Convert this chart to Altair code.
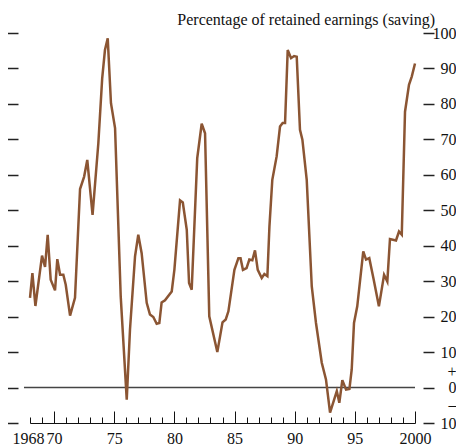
import altair as alt
import pandas as pd

# ---- data ----
years = [
    1968.0, 1968.2, 1968.45, 1969.0, 1969.25, 1969.47, 1969.72, 1970.08, 1970.27, 1970.5,
    1970.77, 1970.97, 1971.33, 1971.74, 1972.16, 1972.5, 1972.76, 1973.2, 1973.68, 1974.0,
    1974.23, 1974.46, 1974.73, 1975.07, 1975.54, 1976.04, 1976.31, 1976.73, 1977.0, 1977.28,
    1977.7, 1977.97, 1978.25, 1978.53, 1978.75, 1978.94, 1979.22, 1979.78, 1980.0, 1980.47,
    1980.7, 1981.03, 1981.22, 1981.44, 1981.9, 1982.27, 1982.55, 1982.9, 1983.57, 1984.0,
    1984.27, 1984.49, 1984.99, 1985.32, 1985.5, 1985.7, 1986.0, 1986.23, 1986.48, 1986.7,
    1986.93, 1987.26, 1987.48, 1987.73, 1987.9, 1988.14, 1988.5, 1988.78, 1989.0, 1989.2,
    1989.42, 1989.7, 1989.95, 1990.17, 1990.44, 1990.64, 1991.0, 1991.42, 1991.77, 1992.25,
    1992.6, 1992.94, 1993.5, 1993.71, 1993.96, 1994.27, 1994.55, 1994.74, 1994.93, 1995.2,
    1995.7, 1995.93, 1996.2, 1996.54, 1997.0, 1997.43, 1997.7, 1997.92, 1998.42, 1998.67,
    1998.9, 1999.17, 1999.5, 1999.73, 2000.0,
]
values = [
    25.3, 32.3, 23.0, 37.2, 34.0, 43.1, 30.4, 27.4, 36.2, 31.8,
    31.8, 29.0, 20.3, 25.3, 56.0, 59.5, 64.2, 48.7, 68.9, 87.2,
    95.2, 98.5, 80.2, 73.2, 25.7, -3.4, 16.3, 37.0, 43.1, 37.9,
    23.9, 20.6, 19.9, 18.0, 18.2, 24.0, 24.6, 27.1, 33.2, 52.8,
    52.2, 44.5, 29.5, 27.6, 64.7, 74.4, 71.7, 20.1, 10.0, 18.4,
    19.2, 21.5, 33.2, 36.5, 36.5, 33.2, 33.7, 36.1, 35.9, 38.7,
    33.2, 30.9, 32.0, 31.4, 45.4, 58.6, 65.2, 73.6, 74.6, 74.6,
    95.2, 92.9, 93.5, 93.3, 72.7, 69.9, 58.6, 28.5, 18.2, 7.0,
    2.3, -7.1, -1.0, -4.3, 2.1, -0.6, -0.4, 5.1, 18.2, 22.9,
    38.4, 36.1, 36.5, 30.9, 22.9, 31.8, 29.9, 41.9, 41.5, 44.0,
    43.1, 77.8, 85.4, 87.7, 91.4,
]
x_label_years = [1968, 1970, 1975, 1980, 1985, 1990, 1995, 2000]
x_tick_years = list(range(1968, 2001))
y_ticks = [-10, 0, 10, 20, 30, 40, 50, 60, 70, 80, 90, 100]
zero_line_x = [1967.5, 2000]
title_text = ["Percentage of retained earnings (saving)"]

FONT = "Liberation Serif"
BROWN = "#8b5533"
W, H = 385, 390

df = pd.DataFrame({"year": years, "value": values})
zero_df = pd.DataFrame({"x0": [zero_line_x[0]], "x1": [zero_line_x[1]], "y": [0]})
title_df = pd.DataFrame({"t": title_text})

xscale = alt.Scale(domain=[1968, 2000], nice=False, zero=False)
yscale = alt.Scale(domain=[-10, 100], nice=False, zero=False)

rule = alt.Chart(zero_df).mark_rule(color="#444444", strokeWidth=1.5).encode(
    x=alt.X("x0:Q", scale=xscale, axis=alt.Axis(
        orient="top", offset=-H, values=x_tick_years, labels=False, grid=False,
        title=None, domain=True, domainColor="#111111", domainWidth=1,
        ticks=True, tickColor="#111111", tickWidth=1,
        tickSize={"condition": {"test": "datum.value % 5 == 0", "value": 12}, "value": 6},
    )),
    x2="x1:Q",
    y=alt.Y("y:Q", scale=yscale, axis=alt.Axis(
        orient="left", offset=12, values=y_ticks, labels=False, grid=False,
        title=None, domain=False, ticks=True, tickSize=11, tickWidth=1.5,
        tickColor="#222222",
    )),
)

line = alt.Chart(df).mark_line(color=BROWN, strokeWidth=2.5).encode(
    x=alt.X("year:Q", scale=xscale, axis=alt.Axis(
        orient="bottom", values=x_label_years, format="d",
        labelExpr="datum.value == 1968 || datum.value == 2000 ? datum.label : slice(datum.label, 2)",
        labelOffset={"condition": {"test": "datum.value == 1968", "value": -2}, "value": 0},
        ticks=False, domain=False, grid=False, title=None,
        labelFont=FONT, labelFontSize=16, labelColor="#111111", labelPadding=7,
        labelFlush=False, labelOverlap=False,
    )),
    y=alt.Y("value:Q", scale=yscale, axis=alt.Axis(
        orient="right", offset=8, values=y_ticks, grid=False, title=None,
        domain=False, ticks=True, tickSize=11, tickWidth=1.5, tickColor="#222222",
        labelExpr="datum.value == 0 ? ['+\u00a0\u00a0', '0', '\u2013\u00a0\u00a0'] : (datum.value < 0 ? '10' : datum.label)",
        labelOffset={"condition": {"test": "datum.value == 0", "value": -16.5}, "value": 0},
        labelAlign="right", labelPadding=22, labelBaseline="middle",
        labelFont=FONT, labelFontSize=16, labelColor="#111111", labelLineHeight=16.5,
        labelOverlap=False, labelFlush=False,
    )),
)

title = alt.Chart(title_df).mark_text(
    align="right", baseline="alphabetic", font=FONT, fontSize=16, color="#111111"
).encode(text="t:N", x=alt.value(405), y=alt.value(-8))

chart = alt.layer(rule, line, title).resolve_axis(
    x="independent", y="independent"
).properties(
    width=W, height=H, autosize="none",
    padding={"left": 22, "top": 25, "right": 41, "bottom": 22},
).configure_view(stroke=None)

chart.save("out.html", embed_options={"renderer": "svg", "actions": False})
